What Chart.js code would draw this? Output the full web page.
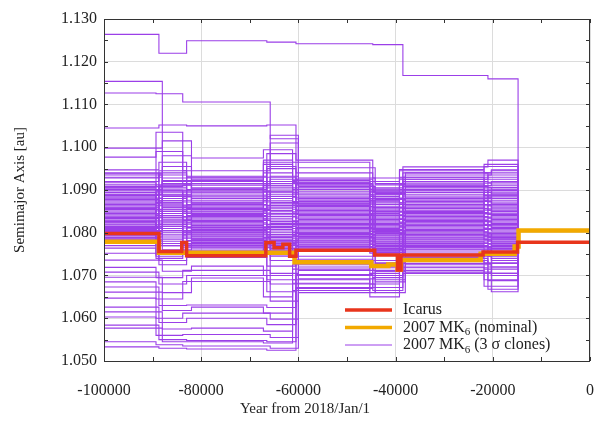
<!DOCTYPE html>
<html>
<head>
<meta charset="utf-8">
<script src="https://cdn.jsdelivr.net/npm/chart.js@4.4.0/dist/chart.umd.min.js"></script>
<style>
  html, body { margin: 0; padding: 0; background: #fff; }
  #wrap { width: 614px; height: 430px; position: relative; }
</style>
</head>
<body>
<div id="wrap"><canvas id="c"></canvas></div>
<script>
// epochs where the clone histories change regime (years from 2018/Jan/1);
// the clones don't all switch at exactly the same time, so three slightly shifted sets
var cloneEpochs = [
  [-100000, -88700, -83000, -66500, -60500, -44700, -38500, -21000, -14800, 0],
  [-100000, -88000, -82000, -67200, -61200, -45300, -39200, -21800, -14800, 0],
  [-100000, -89300, -83800, -65800, -60000, -44200, -38000, -20300, -14800, 0]
];
// near the present every clone sits on the nominal orbit
var cloneNow = 1.0805;

// one row per 3-sigma clone, one value per regime (semimajor axis, au)
var cloneValues = [
  [1.1264, 1.1220, 1.1249, 1.1246, 1.1242, 1.1240, 1.1168, 1.1160],
  [1.1154, 1.0912, 1.0903, 1.0896, 1.0901, 1.0889, 1.0894, 1.0888],
  [1.1127, 1.1125, 1.1106, 1.1020, 1.0952, 1.0915, 1.0940, 1.0947],
  [1.1045, 1.1052, 1.1050, 1.1052, 1.0970, 1.0928, 1.0954, 1.0970],
  [1.0998, 1.1015, 1.0975, 1.0994, 1.0965, 1.0920, 1.0948, 1.0960],
  [1.0977, 1.0990, 1.0945, 1.1028, 1.0928, 1.0912, 1.0935, 1.0945],
  [1.0947, 1.0965, 1.0932, 1.0985, 1.0940, 1.0905, 1.0930, 1.0935],
  [1.0930, 1.0955, 1.0925, 1.0970, 1.0918, 1.0900, 1.0925, 1.0925],
  [1.0905, 1.1035, 1.0915, 1.1010, 1.0908, 1.0890, 1.0910, 1.0920],
  [1.0920, 1.0935, 1.0915, 1.0950, 1.0912, 1.0895, 1.0920, 1.0918],
  [1.0912, 1.0928, 1.0905, 1.0940, 1.0905, 1.0885, 1.0912, 1.0910],
  [1.0905, 1.0898, 1.0898, 1.0925, 1.0897, 1.0878, 1.0905, 1.0902],
  [1.0898, 1.0880, 1.0888, 1.0915, 1.0890, 1.0870, 1.0898, 1.0895],
  [1.0890, 1.0915, 1.0880, 1.0905, 1.0883, 1.0862, 1.0890, 1.0888],
  [1.0884, 1.0870, 1.0872, 1.0895, 1.0876, 1.0856, 1.0883, 1.0880],
  [1.0878, 1.0905, 1.0866, 1.0885, 1.0870, 1.0850, 1.0876, 1.0872],
  [1.0872, 1.0860, 1.0860, 1.0875, 1.0864, 1.0845, 1.0870, 1.0866],
  [1.0866, 1.0895, 1.0854, 1.0868, 1.0858, 1.0840, 1.0863, 1.0860],
  [1.0860, 1.0850, 1.0849, 1.0860, 1.0852, 1.0834, 1.0857, 1.0853],
  [1.0854, 1.0885, 1.0843, 1.0852, 1.0846, 1.0828, 1.0850, 1.0846],
  [1.0848, 1.0840, 1.0838, 1.0845, 1.0840, 1.0822, 1.0844, 1.0840],
  [1.0842, 1.0875, 1.0832, 1.0838, 1.0834, 1.0816, 1.0838, 1.0834],
  [1.0836, 1.0830, 1.0826, 1.0830, 1.0828, 1.0810, 1.0832, 1.0828],
  [1.0830, 1.0865, 1.0820, 1.0822, 1.0822, 1.0805, 1.0826, 1.0822],
  [1.0825, 1.0820, 1.0814, 1.0815, 1.0816, 1.0800, 1.0820, 1.0816],
  [1.0820, 1.0855, 1.0808, 1.0808, 1.0810, 1.0795, 1.0814, 1.0810],
  [1.0815, 1.0810, 1.0802, 1.0800, 1.0804, 1.0790, 1.0808, 1.0804],
  [1.0810, 1.0845, 1.0797, 1.0792, 1.0798, 1.0785, 1.0802, 1.0798],
  [1.0805, 1.0800, 1.0792, 1.0785, 1.0793, 1.0780, 1.0796, 1.0792],
  [1.0800, 1.0835, 1.0787, 1.0778, 1.0788, 1.0775, 1.0790, 1.0786],
  [1.0795, 1.0790, 1.0782, 1.0772, 1.0783, 1.0770, 1.0785, 1.0780],
  [1.0790, 1.0825, 1.0777, 1.0766, 1.0778, 1.0765, 1.0780, 1.0775],
  [1.0785, 1.0780, 1.0772, 1.0760, 1.0773, 1.0760, 1.0775, 1.0770],
  [1.0780, 1.0815, 1.0767, 1.0755, 1.0768, 1.0755, 1.0770, 1.0765],
  [1.0775, 1.0770, 1.0762, 1.0750, 1.0764, 1.0752, 1.0766, 1.0760],
  [1.0770, 1.0805, 1.0758, 1.0745, 1.0760, 1.0748, 1.0762, 1.0756],
  [1.0940, 1.0770, 1.0930, 1.0790, 1.0925, 1.0760, 1.0940, 1.0790],
  [1.0935, 1.0760, 1.0922, 1.0780, 1.0918, 1.0755, 1.0930, 1.0785],
  [1.0826, 1.0750, 1.0895, 1.0770, 1.0880, 1.0800, 1.0900, 1.0812],
  [1.0858, 1.0940, 1.0812, 1.0930, 1.0820, 1.0880, 1.0845, 1.0900],
  [1.0803, 1.0920, 1.0785, 1.0910, 1.0800, 1.0875, 1.0818, 1.0880],
  [1.0788, 1.0745, 1.0800, 1.0705, 1.0790, 1.0710, 1.0795, 1.0720],
  [1.0812, 1.0735, 1.0845, 1.0690, 1.0812, 1.0700, 1.0830, 1.0705],
  [1.0890, 1.0980, 1.0870, 1.0960, 1.0868, 1.0895, 1.0880, 1.0955],
  [1.0917, 1.0908, 1.0911, 1.0932, 1.0909, 1.0892, 1.0916, 1.0914],
  [1.0908, 1.0888, 1.0901, 1.0920, 1.0901, 1.0881, 1.0908, 1.0906],
  [1.0901, 1.0922, 1.0893, 1.0910, 1.0893, 1.0874, 1.0901, 1.0899],
  [1.0894, 1.0875, 1.0884, 1.0900, 1.0886, 1.0866, 1.0894, 1.0891],
  [1.0887, 1.0910, 1.0876, 1.0890, 1.0879, 1.0859, 1.0886, 1.0884],
  [1.0881, 1.0865, 1.0869, 1.0880, 1.0873, 1.0853, 1.0879, 1.0876],
  [1.0875, 1.0900, 1.0863, 1.0871, 1.0867, 1.0848, 1.0873, 1.0869],
  [1.0869, 1.0855, 1.0857, 1.0864, 1.0861, 1.0842, 1.0866, 1.0863],
  [1.0863, 1.0890, 1.0851, 1.0856, 1.0855, 1.0837, 1.0860, 1.0856],
  [1.0857, 1.0845, 1.0846, 1.0849, 1.0849, 1.0831, 1.0853, 1.0850],
  [1.0851, 1.0880, 1.0840, 1.0842, 1.0843, 1.0825, 1.0847, 1.0843],
  [1.0845, 1.0835, 1.0835, 1.0834, 1.0837, 1.0819, 1.0841, 1.0837],
  [1.0839, 1.0870, 1.0829, 1.0826, 1.0831, 1.0813, 1.0835, 1.0831],
  [1.0833, 1.0825, 1.0823, 1.0819, 1.0825, 1.0808, 1.0829, 1.0825],
  [1.0828, 1.0860, 1.0817, 1.0812, 1.0819, 1.0803, 1.0823, 1.0819],
  [1.0823, 1.0815, 1.0811, 1.0804, 1.0813, 1.0798, 1.0817, 1.0813],
  [1.0818, 1.0850, 1.0805, 1.0796, 1.0807, 1.0793, 1.0811, 1.0807],
  [1.0813, 1.0805, 1.0800, 1.0789, 1.0801, 1.0788, 1.0805, 1.0801],
  [1.0808, 1.0840, 1.0795, 1.0782, 1.0796, 1.0783, 1.0799, 1.0795],
  [1.0803, 1.0795, 1.0790, 1.0775, 1.0791, 1.0778, 1.0793, 1.0789],
  [1.0798, 1.0830, 1.0785, 1.0769, 1.0786, 1.0773, 1.0788, 1.0783],
  [1.0793, 1.0785, 1.0780, 1.0763, 1.0781, 1.0768, 1.0783, 1.0778],
  [1.0788, 1.0820, 1.0775, 1.0758, 1.0776, 1.0763, 1.0778, 1.0773],
  [1.0783, 1.0775, 1.0770, 1.0752, 1.0771, 1.0758, 1.0773, 1.0768],
  [1.0778, 1.0810, 1.0765, 1.0748, 1.0766, 1.0754, 1.0768, 1.0763],
  [1.0928, 1.0945, 1.0920, 1.0955, 1.0915, 1.0898, 1.0925, 1.0930],
  [1.0938, 1.0900, 1.0928, 1.0965, 1.0922, 1.0902, 1.0945, 1.0940],
  [1.0764, 1.0740, 1.0750, 1.0735, 1.0745, 1.0730, 1.0745, 1.0735],
  [1.0752, 1.0725, 1.0742, 1.0722, 1.0738, 1.0712, 1.0740, 1.0728],
  [1.0736, 1.0710, 1.0722, 1.0700, 1.0725, 1.0700, 1.0732, 1.0715],
  [1.0719, 1.0695, 1.0712, 1.0680, 1.0712, 1.0685, 1.0725, 1.0700],
  [1.0708, 1.0680, 1.0700, 1.0662, 1.0700, 1.0665, 1.0718, 1.0688],
  [1.0696, 1.0660, 1.0694, 1.0650, 1.0690, 1.0650, 1.0712, 1.0675],
  [1.0685, 1.0645, 1.0686, 1.0640, 1.0680, 1.0660, 1.0708, 1.0662],
  [1.0673, 1.0630, 1.0631, 1.0625, 1.0672, 1.0672, 1.0705, 1.0668],
  [1.0661, 1.0618, 1.0626, 1.0612, 1.0665, 1.0680, 1.0720, 1.0690],
  [1.0647, 1.0600, 1.0612, 1.0598, 1.0660, 1.0690, 1.0728, 1.0705],
  [1.0626, 1.0590, 1.0600, 1.0585, 1.0670, 1.0695, 1.0735, 1.0720],
  [1.0615, 1.0575, 1.0577, 1.0570, 1.0682, 1.0705, 1.0742, 1.0730],
  [1.0603, 1.0560, 1.0562, 1.0555, 1.0692, 1.0710, 1.0750, 1.0740],
  [1.0584, 1.0550, 1.0548, 1.0545, 1.0702, 1.0718, 1.0755, 1.0745],
  [1.0577, 1.0545, 1.0545, 1.0542, 1.0715, 1.0722, 1.0760, 1.0750],
  [1.0545, 1.0538, 1.0535, 1.0530, 1.0720, 1.0728, 1.0765, 1.0755],
  [1.0533, 1.0530, 1.0528, 1.0525, 1.0730, 1.0735, 1.0770, 1.0762]
];

var icarusYears = [-100000, -88700, -84000, -83000, -66700, -65000, -63200, -61800, -60500, -44300, -39600, -38900, -22000, -14900, 0];
var icarusAxis  = [1.0798, 1.0756, 1.0777, 1.0746, 1.0777, 1.0765, 1.0773, 1.0745, 1.0759, 1.0748, 1.0713, 1.0748, 1.0755, 1.0778];

var nominalYears = [-100000, -88700, -60800, -45000, -41500, -39600, -38900, -22500, -15500, -14700, 0];
var nominalAxis  = [1.0779, 1.0753, 1.0731, 1.0722, 1.0726, 1.0714, 1.0736, 1.0751, 1.0768, 1.0805];

var xRange = [-100000, 0];
var yRange = [1.050, 1.130];
var xStep = 20000, yStep = 0.010;

var RED = '#e8351c', ORANGE = '#f2a900', PURPLE = '#9b3fe8';
var FONT = "'Liberation Serif', 'DejaVu Serif', serif";

// turn "value held from year[i] to year[i+1]" into points
function steps(years, vals) {
  var pts = [];
  for (var i = 0; i < vals.length; i++) {
    pts.push({ x: years[i], y: vals[i] });
    pts.push({ x: years[i + 1], y: vals[i] });
  }
  return pts;
}

var datasets = [
  { data: steps(icarusYears, icarusAxis), borderColor: RED, borderWidth: 3.5 },
  { data: steps(nominalYears, nominalAxis), borderColor: ORANGE, borderWidth: 4.5 }
];
cloneValues.forEach(function (row, i) {
  var ep = cloneEpochs[i % cloneEpochs.length];
  datasets.push({ data: steps(ep, row.concat([cloneNow])), borderColor: PURPLE, borderWidth: 1.1 });
});

var frame = {
  id: 'frame',
  afterDatasetsDraw: function (chart) {
    var ctx = chart.ctx, a = chart.chartArea, xs = chart.scales.x, ys = chart.scales.y;
    var t = 4, v, p;
    ctx.save();
    ctx.strokeStyle = '#333';
    ctx.lineWidth = 1;
    ctx.beginPath();
    for (v = xRange[0]; v <= xRange[1]; v += xStep / 2) {
      p = Math.round(xs.getPixelForValue(v)) + 0.5;
      ctx.moveTo(p, a.bottom); ctx.lineTo(p, a.bottom - t);
      ctx.moveTo(p, a.top); ctx.lineTo(p, a.top + t);
    }
    for (v = 0; v <= 16; v++) {
      p = Math.round(ys.getPixelForValue(yRange[0] + v * yStep / 2)) + 0.5;
      ctx.moveTo(a.left, p); ctx.lineTo(a.left + t, p);
      ctx.moveTo(a.right, p); ctx.lineTo(a.right - t, p);
    }
    ctx.stroke();
    ctx.strokeRect(Math.round(a.left) + 0.5, Math.round(a.top) + 0.5,
      Math.round(a.right - a.left) - 1, Math.round(a.bottom - a.top));
    ctx.restore();
  },
  afterDraw: function (chart) {
    var ctx = chart.ctx, a = chart.chartArea;
    ctx.save();
    ctx.fillStyle = '#222';
    ctx.font = '15px ' + FONT;
    ctx.textBaseline = 'middle';
    ctx.textAlign = 'center';
    ctx.fillText('Year from 2018/Jan/1', 305, 409);
    ctx.translate(20, (a.top + a.bottom) / 2);
    ctx.rotate(-Math.PI / 2);
    ctx.fillText('Semimajor Axis [au]', 0, 0);
    ctx.restore();

    // legend
    var rows = [
      { color: RED, w: 3.5, parts: ['Icarus'] },
      { color: ORANGE, w: 3.5, parts: ['2007 MK', '6', ' (nominal)'] },
      { color: PURPLE, w: 1, parts: ['2007 MK', '6', ' (3 \u03C3 clones)'] }
    ];
    ctx.save();
    ctx.textBaseline = 'middle';
    ctx.textAlign = 'left';
    rows.forEach(function (r, i) {
      var y = 310 + i * 17.5;
      ctx.strokeStyle = r.color;
      ctx.lineWidth = r.w;
      ctx.beginPath();
      ctx.moveTo(345, y); ctx.lineTo(392, y);
      ctx.stroke();
      var x = 403;
      ctx.fillStyle = '#222';
      r.parts.forEach(function (s, k) {
        if (k === 1) {
          ctx.font = '11px ' + FONT;
          ctx.fillText(s, x, y + 5);
        } else {
          ctx.font = '16px ' + FONT;
          ctx.fillText(s, x, y);
        }
        x += ctx.measureText(s).width;
      });
    });
    ctx.restore();
  }
};

new Chart(document.getElementById('c'), {
  type: 'line',
  data: { datasets: datasets },
  plugins: [frame],
  options: {
    responsive: true,
    maintainAspectRatio: false,
    animation: false,
    parsing: false,
    layout: { padding: { top: 19, right: 2, left: 0, bottom: 0 } },
    elements: { point: { radius: 0 }, line: { tension: 0 } },
    plugins: { legend: { display: false }, tooltip: { enabled: false } },
    scales: {
      x: {
        type: 'linear', min: xRange[0], max: xRange[1],
        afterFit: function (s) { s.height = 69; },
        grid: { color: '#dcdcdc', drawTicks: false },
        border: { display: false },
        ticks: {
          stepSize: xStep, padding: 20, color: '#222', maxRotation: 0,
          font: { family: FONT, size: 16 },
          callback: function (v) { return String(v); }
        }
      },
      y: {
        type: 'linear', min: yRange[0], max: yRange[1],
        afterFit: function (s) { s.width = 104; },
        grid: { color: '#dcdcdc', drawTicks: false },
        border: { display: false },
        ticks: {
          stepSize: yStep, padding: 7, color: '#222',
          font: { family: FONT, size: 16 },
          callback: function (v) { return v.toFixed(3); }
        }
      }
    }
  }
});
</script>
</body>
</html>
